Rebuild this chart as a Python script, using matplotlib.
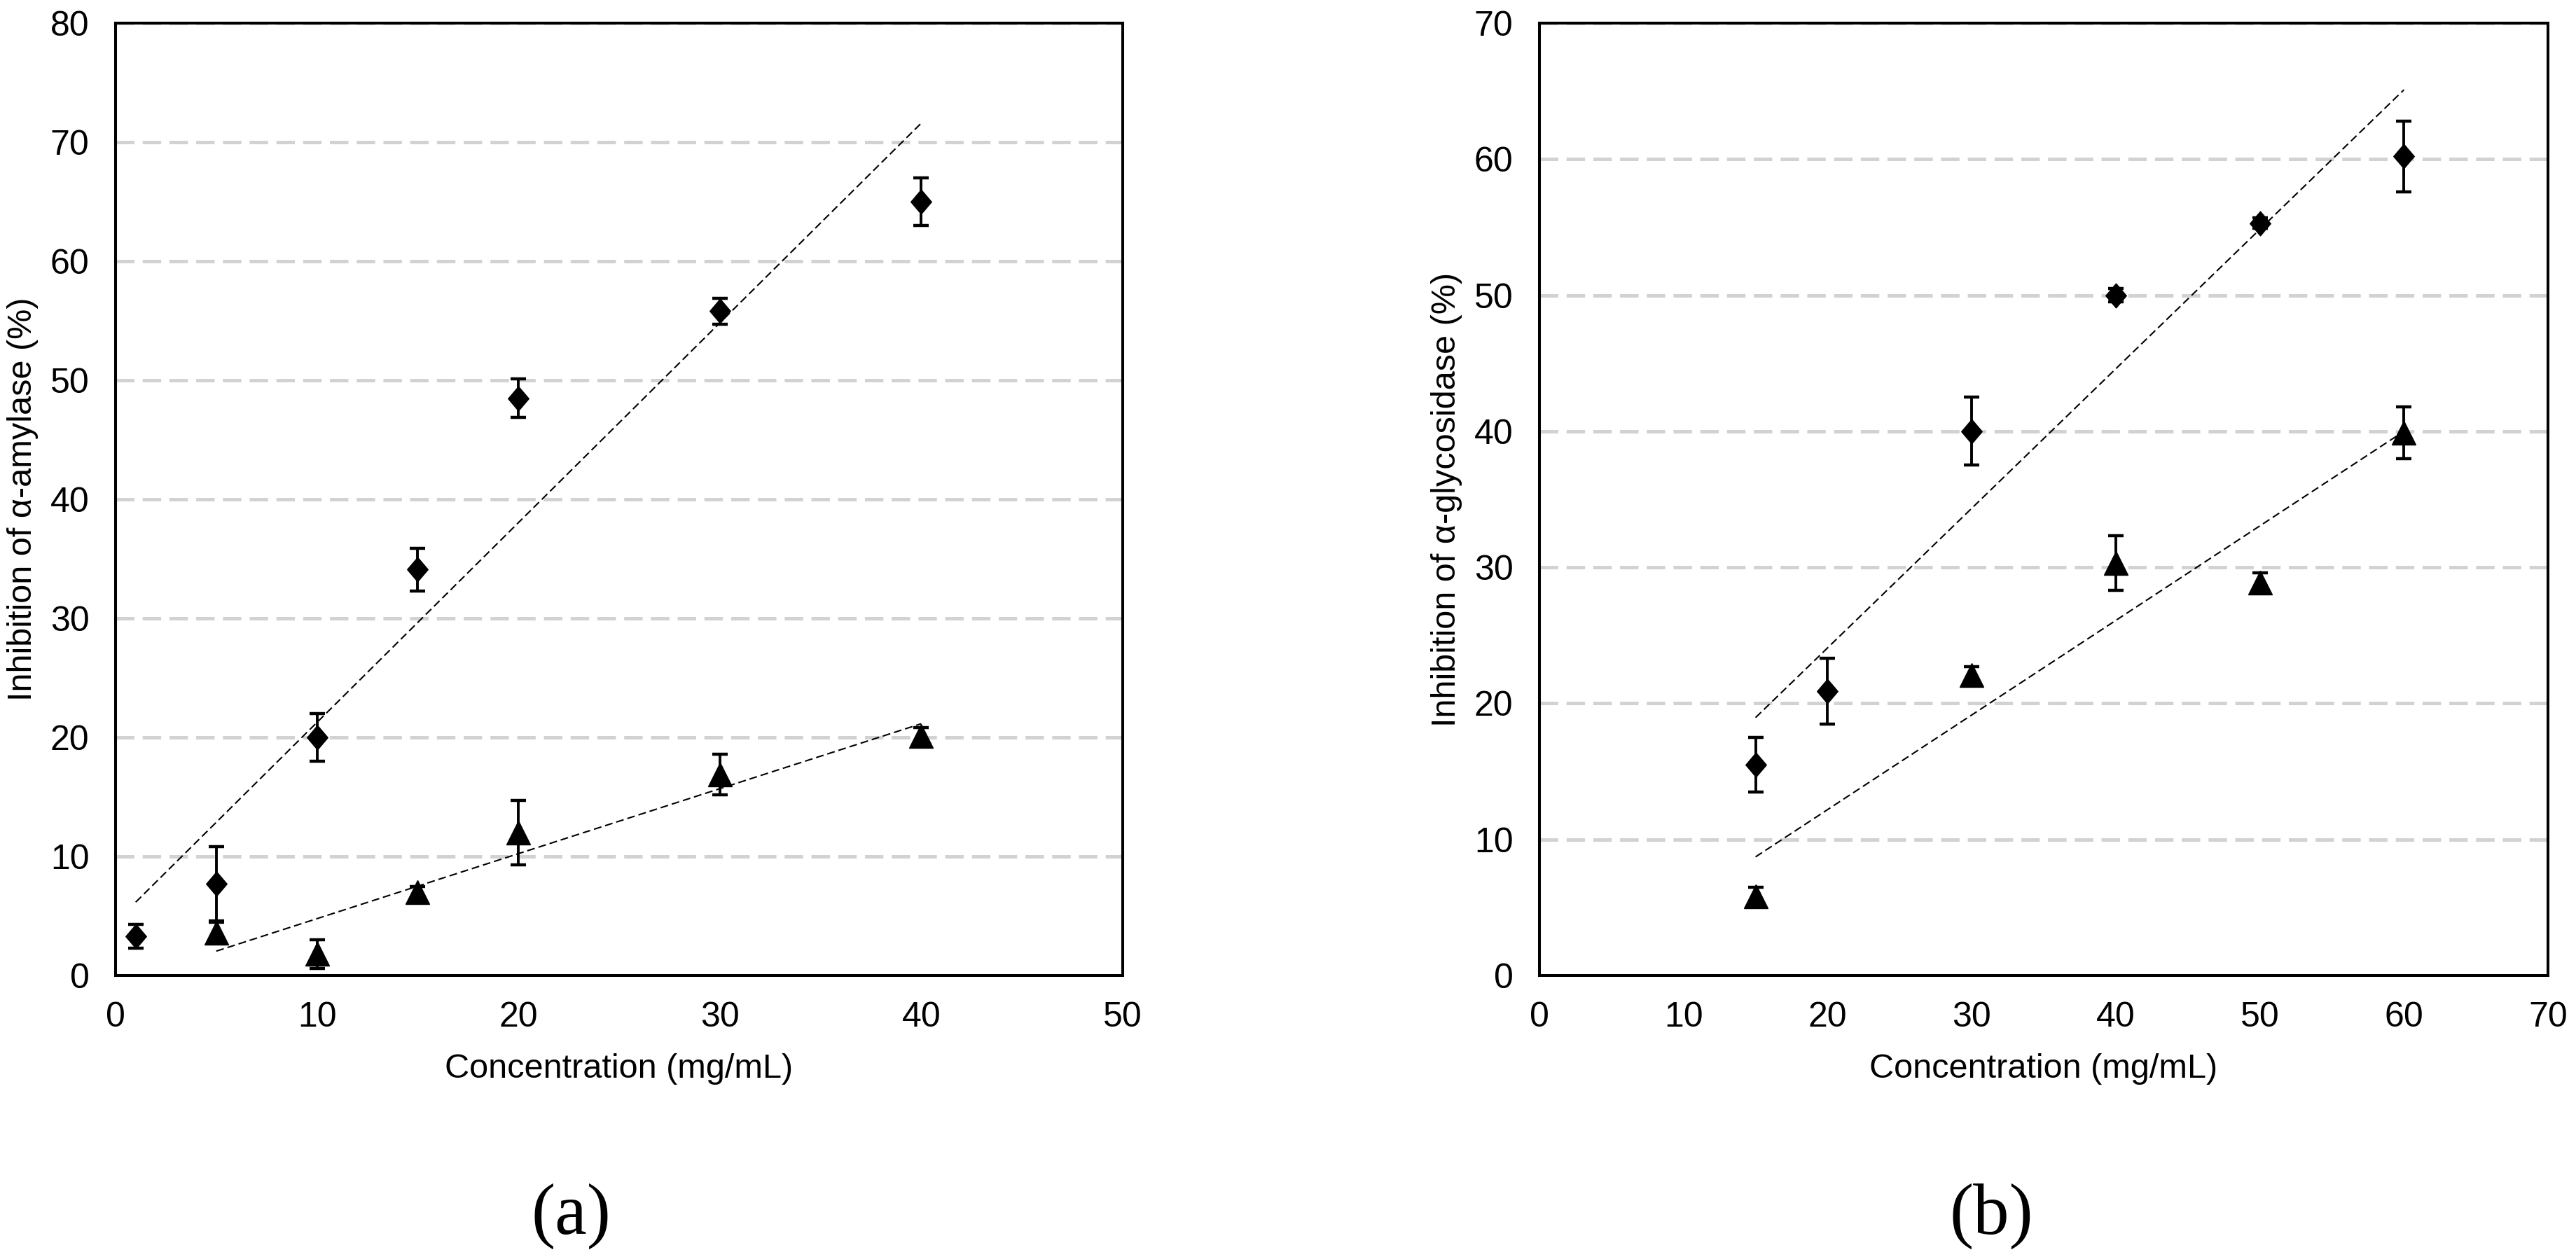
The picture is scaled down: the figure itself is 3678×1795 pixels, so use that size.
#Importing necessary libraries
import numpy as np
import matplotlib
matplotlib.use('Agg')
import matplotlib.pyplot as plt
from matplotlib.path import Path

#Panel (a): inhibition of alpha-amylase
A_X_DIAMOND = [1, 5, 10, 15, 20, 30, 40]
A_Y_DIAMOND = [3.3, 7.7, 20.0, 34.1, 48.5, 55.8, 65.0]
A_E_DIAMOND = [1.0, 3.1, 2.0, 1.8, 1.6, 1.1, 2.0]
A_X_TRIANGLE = [5, 10, 15, 20, 30, 40]
A_Y_TRIANGLE = [3.6, 1.8, 7.0, 12.0, 16.9, 20.1]
A_E_TRIANGLE = [0.9, 1.2, 0.5, 2.7, 1.7, 0.7]

#Panel (b): inhibition of alpha-glycosidase
B_X_DIAMOND = [15, 20, 30, 40, 50, 60]
B_Y_DIAMOND = [15.5, 20.9, 40.0, 50.0, 55.3, 60.2]
B_E_DIAMOND = [2.0, 2.4, 2.5, 0.5, 0.4, 2.6]
B_X_TRIANGLE = [15, 30, 40, 50, 60]
B_Y_TRIANGLE = [5.8, 22.1, 30.3, 28.9, 39.9]
B_E_TRIANGLE = [0.7, 0.6, 2.0, 0.7, 1.9]

XLABEL = 'Concentration (mg/mL)'
A_YLABEL = 'Inhibition of α-amylase (%)'
B_YLABEL = 'Inhibition of α-glycosidase (%)'

plt.rcParams['font.family'] = ['Liberation Sans', 'DejaVu Sans']
plt.rcParams['lines.scale_dashes'] = False

W, H = 3678, 1795
DIAMOND = Path([(0, 1), (0.85, 0), (0, -1), (-0.85, 0), (0, 1)],
               [Path.MOVETO, Path.LINETO, Path.LINETO, Path.LINETO, Path.CLOSEPOLY])


def draw_panel(ax, xd, yd, ed, xt, yt, et, xmax, ymax, ylabel):
    #error bars + markers
    for xs, ys, es, mk, ms in ((xd, yd, ed, DIAMOND, 25), (xt, yt, et, '^', 24)):
        ax.errorbar(xs, ys, yerr=es, fmt='none', ecolor='black', elinewidth=2.8,
                    capsize=8, capthick=3.2, zorder=3)
        ax.plot(xs, ys, linestyle='none', marker=mk, ms=ms, color='black', zorder=4)
        #linear trendline over the data range
        k, b = np.polyfit(xs, ys, 1)
        xx = np.array([min(xs), max(xs)])
        ax.plot(xx, k * xx + b, color='black', lw=1.5, linestyle=(0, (8, 4)), zorder=2)

    ax.set_xlim(0, xmax)
    ax.set_ylim(0, ymax)
    ax.set_xticks(range(0, xmax + 1, 10))
    ax.set_yticks(range(0, ymax + 1, 10))
    ax.yaxis.grid(True, color='#d2d2d2', lw=3.6, linestyle=(0, (19, 8.5)))
    ax.set_axisbelow(True)
    ax.tick_params(length=0, labelsize=36, pad=27)
    for s in ax.spines.values():
        s.set_linewidth(2.9)

    ax.set_xlabel(XLABEL, fontsize=35, va='center')
    ax.xaxis.set_label_coords(0.5, -0.0985)
    ax.set_ylabel(ylabel, fontsize=35, va='center')
    ax.yaxis.set_label_coords(-0.092, 0.5)


fig = plt.figure(figsize=(W / 100, H / 100), dpi=100)
ax_a = fig.add_axes([165 / W, 1 - 1393 / H, 1438 / W, 1360 / H])
ax_b = fig.add_axes([2198 / W, 1 - 1393 / H, 1440 / W, 1360 / H])

draw_panel(ax_a, A_X_DIAMOND, A_Y_DIAMOND, A_E_DIAMOND,
           A_X_TRIANGLE, A_Y_TRIANGLE, A_E_TRIANGLE, 50, 80, A_YLABEL)
draw_panel(ax_b, B_X_DIAMOND, B_Y_DIAMOND, B_E_DIAMOND,
           B_X_TRIANGLE, B_Y_TRIANGLE, B_E_TRIANGLE, 70, 70, B_YLABEL)

fig.text(815 / W, 1 - 1737 / H, '(a)', ha='center', va='center', fontsize=74,
         family='Liberation Serif')
fig.text(2843 / W, 1 - 1737 / H, '(b)', ha='center', va='center', fontsize=74,
         family='Liberation Serif')

fig.savefig('out.png', dpi=100, facecolor='white')
